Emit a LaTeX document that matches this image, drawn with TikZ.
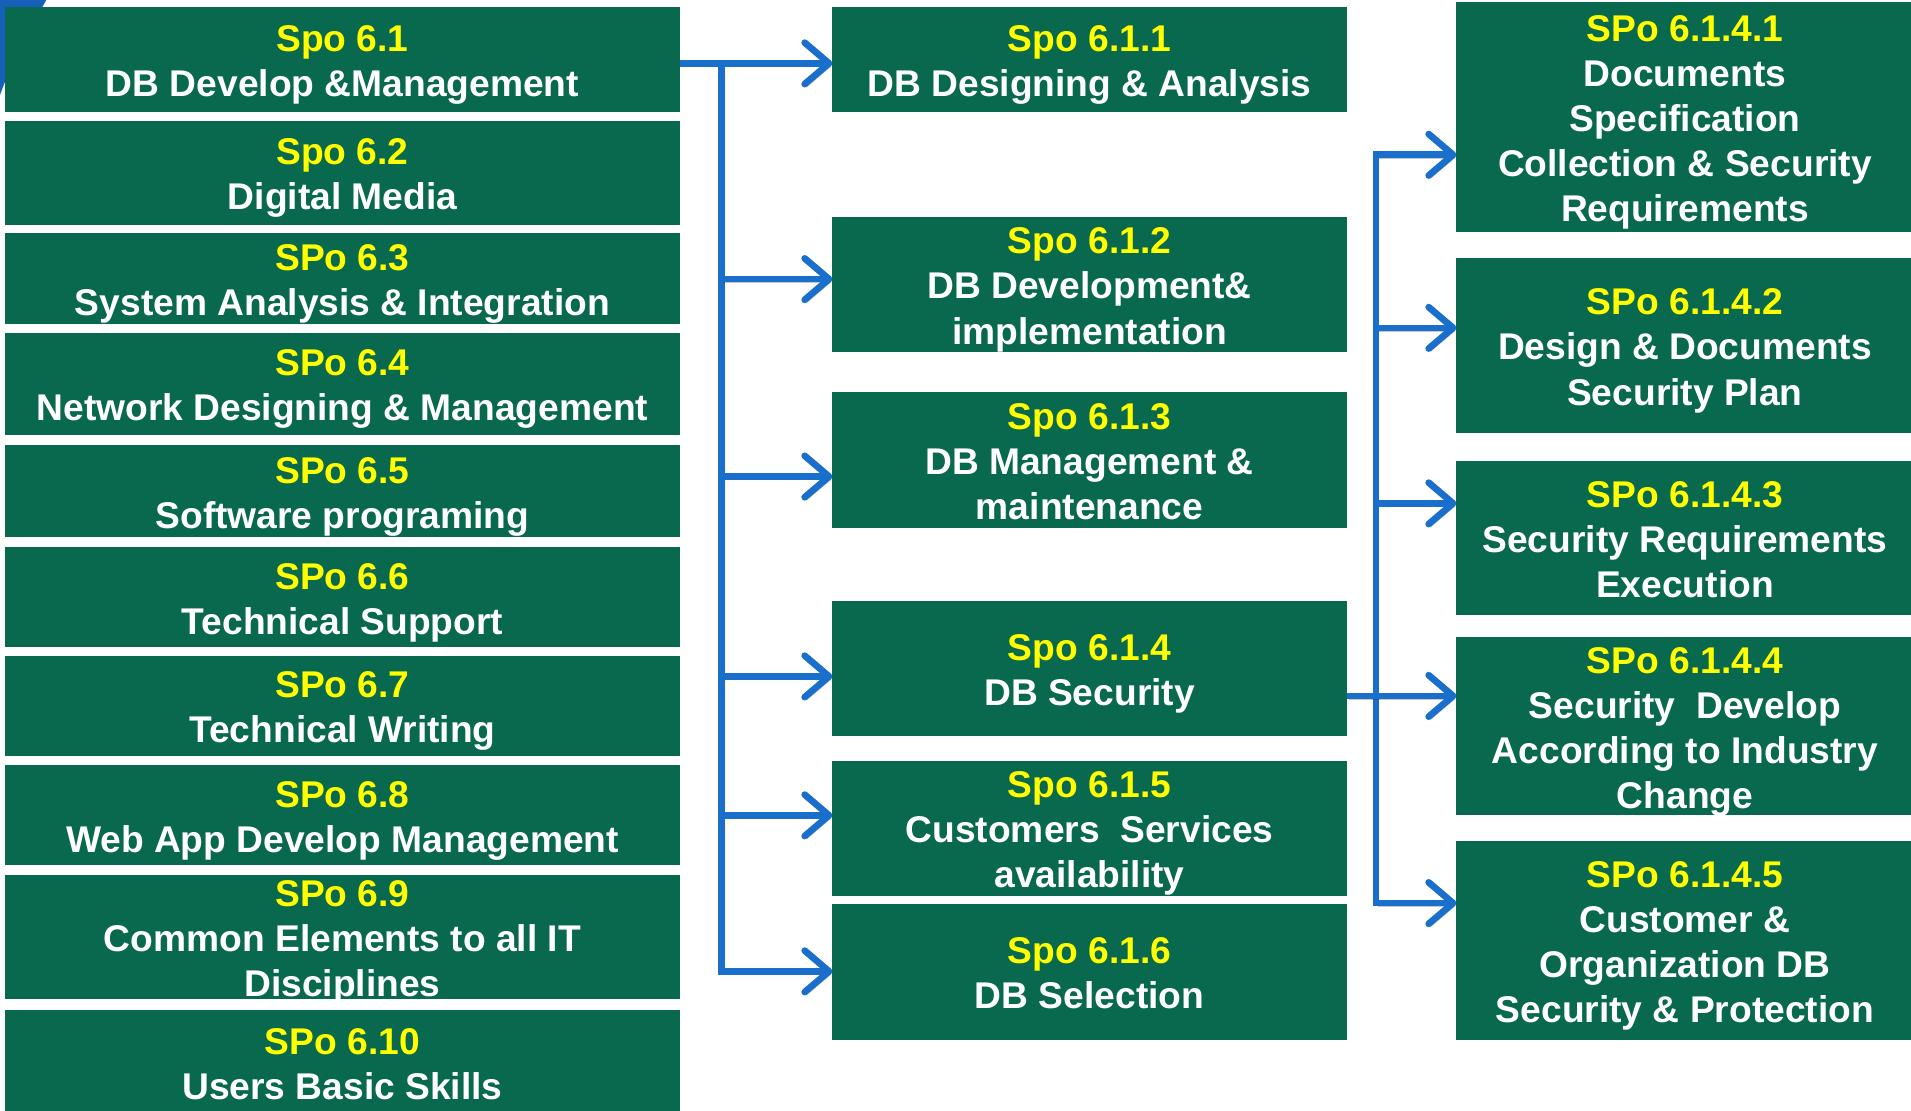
\documentclass[tikz,border=0pt]{standalone}
\usepackage{fontspec}
\setmainfont{Liberation Sans}
\usetikzlibrary{arrows.meta}
\definecolor{boxgreen}{HTML}{09694E}
\definecolor{spoyellow}{HTML}{FFFF00}
\definecolor{arrowblue}{HTML}{1A6FCC}
\definecolor{decoblue}{HTML}{1660BA}
\newcommand{\spohd}[1]{\textcolor{spoyellow}{\smash{#1}}\rule{0pt}{23.6pt}}
\newcommand{\spoln}[1]{\smash{#1}\rule{0pt}{21.8pt}}
\begin{document}
\begin{tikzpicture}[x=1pt,y=-1pt,
  spobox/.style={draw=none, fill=boxgreen, text=white, inner sep=0pt, outer sep=0pt,
    anchor=north west, align=center,
    font=\fontsize{30.5}{37}\selectfont\bfseries},
  leftbox/.style={spobox, minimum width=554pt},
  midbox/.style={spobox, minimum width=422pt},
  rightbox/.style={spobox, minimum width=375pt},
  conn/.style={draw=arrowblue, line width=5.5pt,
    preaction={draw=black, opacity=0.22, transform canvas={shift={(1.5pt,-2.5pt)}}}},
  arr/.style={conn, -{Straight Barb[length=20pt, width=34pt, round]}}
]
\useasboundingbox (0,0) rectangle (1568,911);
\fill[white] (0,0) rectangle (1568,911);
% corner decoration
\fill[decoblue] (0,0) -- (38,0) .. controls (22,28) and (8,55) .. (0,78) -- cycle;

% left column
\node[leftbox, minimum height=86pt] (n61) at (4,6) {\spohd{Spo 6.1}\\\spoln{DB Develop \&Management}};
\node[leftbox, minimum height=86pt] (n62) at (4,99) {\spohd{Spo 6.2}\\\spoln{Digital Media}};
\node[leftbox, minimum height=75pt] (n63) at (4,191) {\spohd{SPo 6.3}\\\spoln{System Analysis \& Integration}};
\node[leftbox, minimum height=84pt] (n64) at (4,273) {\spohd{SPo 6.4}\\\spoln{Network Designing \& Management}};
\node[leftbox, minimum height=76pt] (n65) at (4,365) {\spohd{SPo 6.5}\\\spoln{Software programing}};
\node[leftbox, minimum height=82pt] (n66) at (4,449) {\spohd{SPo 6.6}\\\spoln{Technical Support}};
\node[leftbox, minimum height=82pt] (n67) at (4,538) {\spohd{SPo 6.7}\\\spoln{Technical Writing}};
\node[leftbox, minimum height=82pt] (n68) at (4,628) {\spohd{SPo 6.8}\\\spoln{Web App Develop Management}};
\node[leftbox, minimum height=102pt] (n69) at (4,718) {\spohd{SPo 6.9}\\\spoln{Common Elements to all IT}\\\spoln{Disciplines}};
\node[leftbox, minimum height=86pt] (n610) at (4,829) {\spohd{SPo 6.10}\\\spoln{Users Basic Skills}};

% middle column
\node[midbox, minimum height=86pt] (n611) at (683,6) {\spohd{Spo 6.1.1}\\\spoln{DB Designing \& Analysis}};
\node[midbox, minimum height=111pt] (n612) at (683,178) {\spohd{Spo 6.1.2}\\\spoln{DB Development\&}\\\spoln{implementation}};
\node[midbox, minimum height=111pt] (n613) at (683,322) {\spohd{Spo 6.1.3}\\\spoln{DB Management \&}\\\spoln{maintenance}};
\node[midbox, minimum height=111pt] (n614) at (683,493) {\spohd{Spo 6.1.4}\\\spoln{DB Security}};
\node[midbox, minimum height=111pt] (n615) at (683,624) {\spohd{Spo 6.1.5}\\\spoln{Customers~ Services}\\\spoln{availability}};
\node[midbox, minimum height=111pt] (n616) at (683,742) {\spohd{Spo 6.1.6}\\\spoln{DB Selection}};

% right column
\node[rightbox, minimum height=188pt] (n6141) at (1195,2) {\spohd{SPo 6.1.4.1}\\\spoln{Documents}\\\spoln{Specification}\\\spoln{Collection \& Security}\\\spoln{Requirements}};
\node[rightbox, minimum height=143pt] (n6142) at (1195,212) {\spohd{SPo 6.1.4.2}\\\spoln{Design \& Documents}\\\spoln{Security Plan}};
\node[rightbox, minimum height=127pt] (n6143) at (1195,378) {\spohd{SPo 6.1.4.3}\\\spoln{Security Requirements}\\\spoln{Execution}};
\node[rightbox, minimum height=146pt] (n6144) at (1195,523) {\spohd{SPo 6.1.4.4}\\\spoln{Security~ Develop}\\\spoln{According to Industry}\\\spoln{Change}};
\node[rightbox, minimum height=163pt] (n6145) at (1195,690) {\spohd{SPo 6.1.4.5}\\\spoln{Customer \&}\\\spoln{Organization DB}\\\spoln{Security \& Protection}};

% left trunk
\coordinate (j1) at (592,52);
\coordinate (j2) at (592,229);
\coordinate (j3) at (592,391);
\coordinate (j4) at (592,555);
\coordinate (j5) at (592,669);
\coordinate (j6) at (592,797);
\draw[arr] (n61.east |- j1) -- (n611.west |- j1);
\draw[arr] (j1) -- (j6) -- (n616.west |- j6);
\draw[arr] (j2) -- (n612.west |- j2);
\draw[arr] (j3) -- (n613.west |- j3);
\draw[arr] (j4) -- (n614.west |- j4);
\draw[arr] (j5) -- (n615.west |- j5);

% right trunk
\coordinate (k1) at (1129,127);
\coordinate (k2) at (1129,269);
\coordinate (k3) at (1129,413);
\coordinate (k4) at (1129,571);
\coordinate (k5) at (1129,741);
\draw[arr] (k4) -- (k1) -- (n6141.west |- k1);
\draw[arr] (k4) -- (k5) -- (n6145.west |- k5);
\draw[arr] (k2) -- (n6142.west |- k2);
\draw[arr] (k3) -- (n6143.west |- k3);
\draw[arr] (n614.east |- k4) -- (n6144.west |- k4);
\end{tikzpicture}
\end{document}
